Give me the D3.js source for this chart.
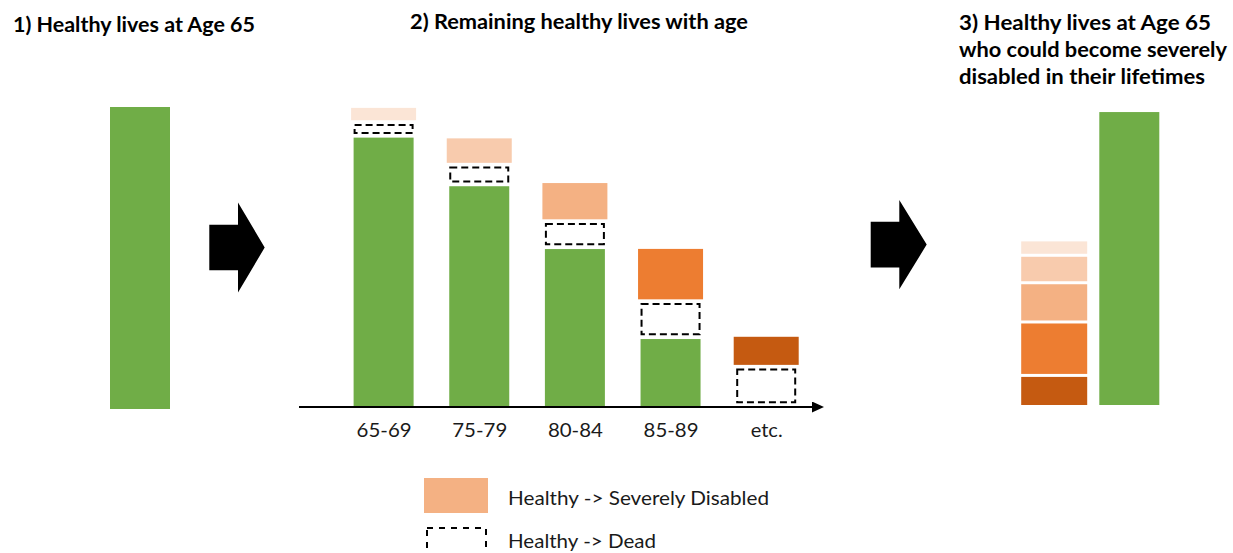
<!DOCTYPE html>
<html>
<head>
<meta charset="utf-8">
<script src="https://cdn.jsdelivr.net/npm/d3@7"></script>
<style>
  html, body { margin: 0; padding: 0; background: #fff; }
  svg { display: block; }
</style>
</head>
<body>
<svg id="chart" width="1233" height="553"></svg>
<script>
// ---------------- DATA ----------------
const categories = ["65-69", "75-79", "80-84", "85-89", "etc."];
const healthyRemaining = [89.2, 73.1, 52.3, 22.5, 0];     // green, remaining healthy lives
const healthyToDead = [3.3, 5.3, 7.4, 10.7, 11.5];        // dashed, healthy -> dead
const healthyToDisabled = [4.1, 8.1, 12.0, 16.7, 9.3];    // orange, healthy -> severely disabled
const healthyAt65 = 100;                                  // panel 1
const healthyAt65Right = 97.0;                            // panel 3 green bar
const titles = {
  p1: "1) Healthy lives at Age 65",
  p2: "2) Remaining healthy lives with age",
  p3: ["3) Healthy lives at Age 65", "who could become severely", "disabled in their lifetimes"]
};
const legendLabels = ["Healthy -> Severely Disabled", "Healthy -> Dead"];

// ---------------- STYLE ----------------
const GREEN = "#70AD47";
const disabledColors = ["#FBE5D6", "#F8CBAD", "#F4B183", "#ED7D31", "#C55A11"];
const FONT = "Lato, 'Open Sans', sans-serif";

const svg = d3.select("#chart");

// height scale (value -> pixels)
const h = d3.scaleLinear().domain([0, 100]).range([0, 302]);

function fit(sel, target) {
  sel.each(function () {
    const w = this.getComputedTextLength();
    if (Math.abs(w - target) / target > 0.01) {
      d3.select(this).attr("textLength", target).attr("lengthAdjust", "spacingAndGlyphs");
    }
  });
}

// ---------------- TITLES ----------------
fit(svg.append("text").attr("x", 13).attr("y", 32)
  .attr("font-family", FONT).attr("font-weight", 700).attr("font-size", 21).attr("fill", "#000")
  .text(titles.p1), 242);
fit(svg.append("text").attr("x", 410).attr("y", 29)
  .attr("font-family", FONT).attr("font-weight", 700).attr("font-size", 21).attr("fill", "#000")
  .text(titles.p2), 338);
const p3w = [252, 268, 246];
titles.p3.forEach((t, i) => {
  fit(svg.append("text").attr("x", 959).attr("y", 29.5 + i * 27)
    .attr("font-family", FONT).attr("font-weight", 700).attr("font-size", 21).attr("fill", "#000")
    .text(t), p3w[i]);
});

// ---------------- PANEL 1 ----------------
const base1 = 409;
svg.append("rect")
  .attr("x", 110).attr("width", 60)
  .attr("y", base1 - h(healthyAt65)).attr("height", h(healthyAt65))
  .attr("fill", GREEN);

// ---------------- ARROWS ----------------
function blockArrow(x0, yMid, bodyW, bodyH, headW, headH) {
  const p = d3.path();
  p.moveTo(x0, yMid - bodyH / 2);
  p.lineTo(x0 + bodyW, yMid - bodyH / 2);
  p.lineTo(x0 + bodyW, yMid - headH / 2);
  p.lineTo(x0 + bodyW + headW, yMid);
  p.lineTo(x0 + bodyW, yMid + headH / 2);
  p.lineTo(x0 + bodyW, yMid + bodyH / 2);
  p.lineTo(x0, yMid + bodyH / 2);
  p.closePath();
  svg.append("path").attr("d", p.toString()).attr("fill", "#000");
}
blockArrow(209.3, 247.5, 28.7, 45.7, 26.7, 90);
blockArrow(870.7, 244.6, 28.6, 45.6, 27.4, 89.3);

// ---------------- PANEL 2 ----------------
const base2 = 407;
const gap = 3.7;
const x2 = d3.scalePoint().domain(categories).range([383.6, 766.2]);

const bars = categories.map((c, i) => {
  const gTop = base2 - h(healthyRemaining[i]);
  const dBottom = gTop - gap;
  const dTop = dBottom - h(healthyToDead[i]);
  const oBottom = dTop - gap;
  const oTop = oBottom - h(healthyToDisabled[i]);
  return { c, i, gTop, dTop, dBottom, oTop, oBottom };
});

const g2 = svg.append("g");
g2.selectAll("rect.green").data(bars.filter(d => healthyRemaining[d.i] > 0)).join("rect")
  .attr("class", "green")
  .attr("x", d => x2(d.c) - 30).attr("width", 60)
  .attr("y", d => d.gTop).attr("height", d => base2 - d.gTop)
  .attr("fill", GREEN);
g2.selectAll("rect.dead").data(bars).join("rect")
  .attr("class", "dead")
  .attr("x", d => x2(d.c) - 29).attr("width", 58)
  .attr("y", d => d.dTop + 1).attr("height", d => d.dBottom - d.dTop - 2)
  .attr("fill", "none").attr("stroke", "#000").attr("stroke-width", 2)
  .attr("stroke-dasharray", "7,4");
g2.selectAll("rect.dis").data(bars).join("rect")
  .attr("class", "dis")
  .attr("x", d => x2(d.c) - 32.5).attr("width", 65)
  .attr("y", d => d.oTop).attr("height", d => d.oBottom - d.oTop)
  .attr("fill", (d, i) => disabledColors[i]);

// axis line with arrow
const defs = svg.append("defs");
defs.append("marker").attr("id", "arr")
  .attr("viewBox", "0 0 12 11").attr("refX", 0).attr("refY", 5.5)
  .attr("markerWidth", 12).attr("markerHeight", 11).attr("markerUnits", "userSpaceOnUse")
  .attr("orient", "auto")
  .append("path").attr("d", "M0,0 L12,5.5 L0,11 Z").attr("fill", "#000");
svg.append("line").attr("x1", 299).attr("x2", 812).attr("y1", base2).attr("y2", base2)
  .attr("stroke", "#000").attr("stroke-width", 2).attr("marker-end", "url(#arr)");

const axis = d3.axisBottom(x2).tickSize(0).tickPadding(0);
const ax = svg.append("g").attr("transform", `translate(0,${base2})`).call(axis);
ax.select(".domain").remove();
ax.selectAll("text")
  .attr("y", 29.7).attr("dy", 0)
  .attr("font-family", FONT).attr("font-size", 20).attr("fill", "#1a1a1a");
fit(ax.selectAll("text").filter(d => d !== "etc."), 55);

// ---------------- PANEL 3 ----------------
const base3 = 405;
const x3 = d3.scalePoint().domain(["disabled", "healthy"]).range([1054.2, 1129.3]);
const stackGap = 3;
let cur = base3;
const segs = [];
for (let i = categories.length - 1; i >= 0; i--) {
  const hh = h(healthyToDisabled[i]);
  segs.push({ i, y: cur - hh, hgt: hh });
  cur = cur - hh - stackGap;
}
svg.append("g").selectAll("rect").data(segs).join("rect")
  .attr("x", x3("disabled") - 33).attr("width", 66)
  .attr("y", d => d.y).attr("height", d => d.hgt)
  .attr("fill", d => disabledColors[d.i]);
svg.append("rect")
  .attr("x", x3("healthy") - 30).attr("width", 60)
  .attr("y", base3 - h(healthyAt65Right)).attr("height", h(healthyAt65Right))
  .attr("fill", GREEN);

// ---------------- LEGEND ----------------
svg.append("rect").attr("x", 424).attr("y", 478).attr("width", 64).attr("height", 35)
  .attr("fill", disabledColors[2]);
svg.append("rect").attr("x", 427).attr("y", 528).attr("width", 59).attr("height", 35)
  .attr("fill", "none").attr("stroke", "#000").attr("stroke-width", 2)
  .attr("stroke-dasharray", "6,6");
fit(svg.append("text").attr("x", 508).attr("y", 505)
  .attr("font-family", FONT).attr("font-size", 20).attr("fill", "#1a1a1a")
  .text(legendLabels[0]), 261);
fit(svg.append("text").attr("x", 508).attr("y", 548)
  .attr("font-family", FONT).attr("font-size", 20).attr("fill", "#1a1a1a")
  .text(legendLabels[1]), 148);
</script>
</body>
</html>
